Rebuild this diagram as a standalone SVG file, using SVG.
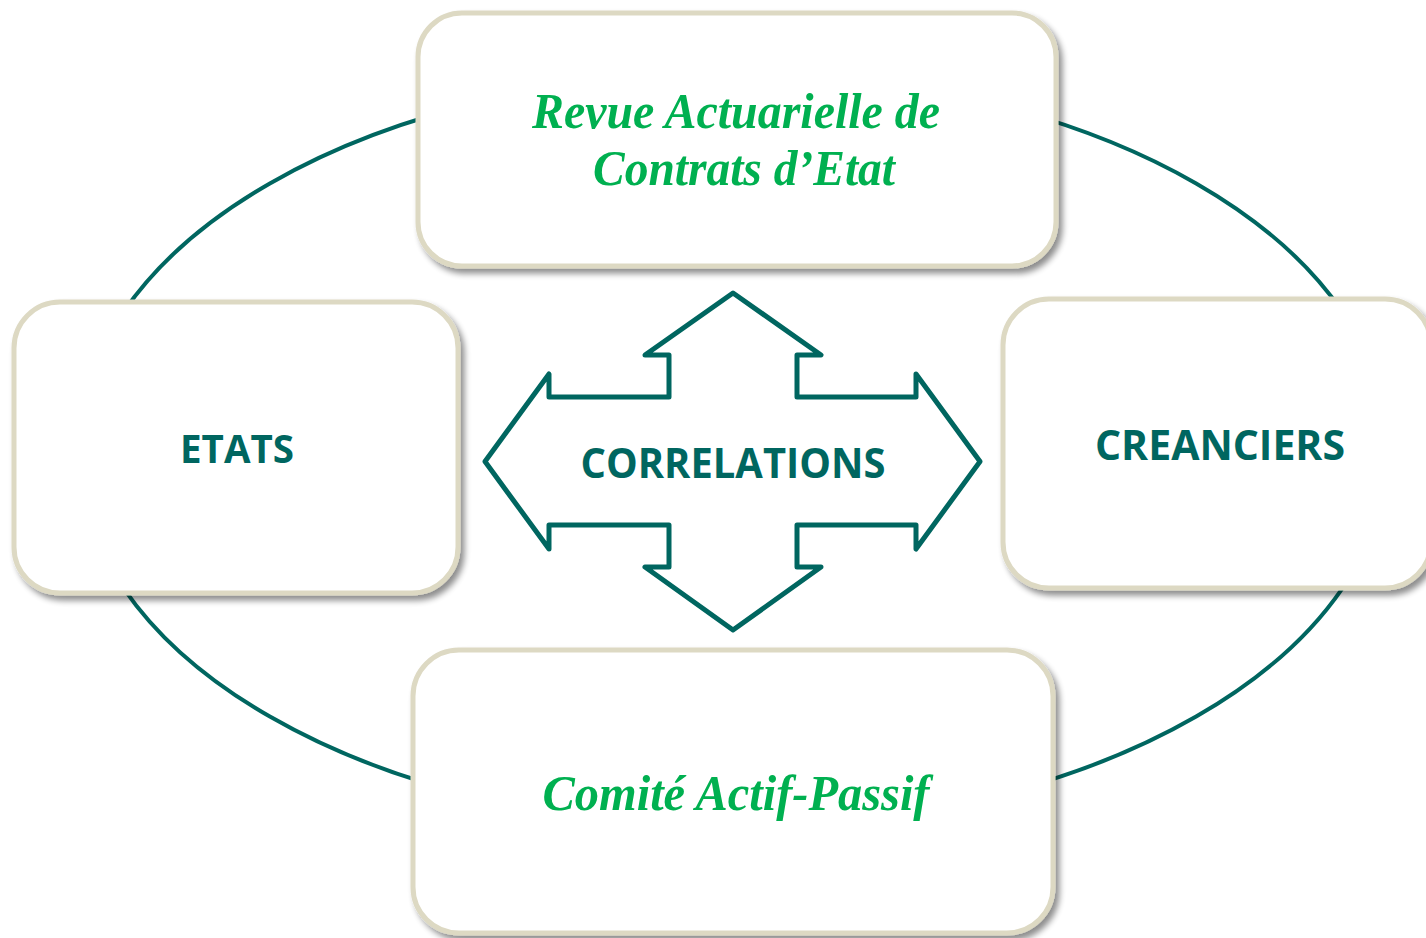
<svg xmlns="http://www.w3.org/2000/svg" width="1426" height="938" viewBox="0 0 1426 938">
<defs>
<filter id="sh" x="-10%" y="-10%" width="125%" height="130%">
<feGaussianBlur in="SourceAlpha" stdDeviation="3"/>
<feOffset dx="4" dy="5" result="b"/>
<feComponentTransfer><feFuncA type="linear" slope="0.45"/></feComponentTransfer>
<feMerge><feMergeNode/><feMergeNode in="SourceGraphic"/></feMerge>
</filter>
<style>
.box{fill:#fff;stroke:#DDD9C3;stroke-width:5;filter:url(#sh)}
.teal{fill:#006660;font-family:"Open Sans","DejaVu Sans",sans-serif;font-weight:bold;text-anchor:middle}
.green{fill:#00B050;font-family:"Liberation Serif","Times New Roman",serif;font-weight:bold;font-style:italic;text-anchor:middle}
.conn{fill:none;stroke:#006660;stroke-width:4}
</style>
</defs>
<rect width="1426" height="938" fill="#fff"/>
<g id="connectors">
<ellipse class="conn" cx="733" cy="450" rx="655" ry="377"/>
</g>
<g id="correlations">
<path d="M733,293 L821,355 L797,355 L797,397 L916,397 L916,374 L980,461.5 L916,549 L916,525 L797,525 L797,567 L821,567 L733,630 L645,567 L669,567 L669,525 L549,525 L549,549 L485,461.5 L549,374 L549,397 L669,397 L669,355 L645,355 Z" fill="#fff" stroke="#006660" stroke-width="5" stroke-linejoin="round"/>
<text class="teal" x="733" y="478" font-size="41" textLength="305" lengthAdjust="spacingAndGlyphs">CORRELATIONS</text>
</g>
<g id="revue">
<rect class="box" x="418" y="13" width="638" height="253" rx="44"/>
<text class="green" x="736" y="128" font-size="50" textLength="408" lengthAdjust="spacingAndGlyphs">Revue Actuarielle de</text>
<text class="green" x="744" y="185" font-size="50" textLength="302" lengthAdjust="spacingAndGlyphs">Contrats d’Etat</text>
</g>
<g id="etats">
<rect class="box" x="14" y="302" width="444" height="291" rx="46"/>
<text class="teal" x="237" y="463" font-size="40" textLength="114" lengthAdjust="spacingAndGlyphs">ETATS</text>
</g>
<g id="creanciers">
<rect class="box" x="1003" y="299" width="428" height="289" rx="46"/>
<text class="teal" x="1220" y="460" font-size="41" textLength="250" lengthAdjust="spacingAndGlyphs">CREANCIERS</text>
</g>
<g id="comite">
<rect class="box" x="413" y="650" width="640" height="283" rx="46"/>
<text class="green" x="736" y="810" font-size="50" textLength="387" lengthAdjust="spacingAndGlyphs">Comité Actif-Passif</text>
</g>
</svg>
